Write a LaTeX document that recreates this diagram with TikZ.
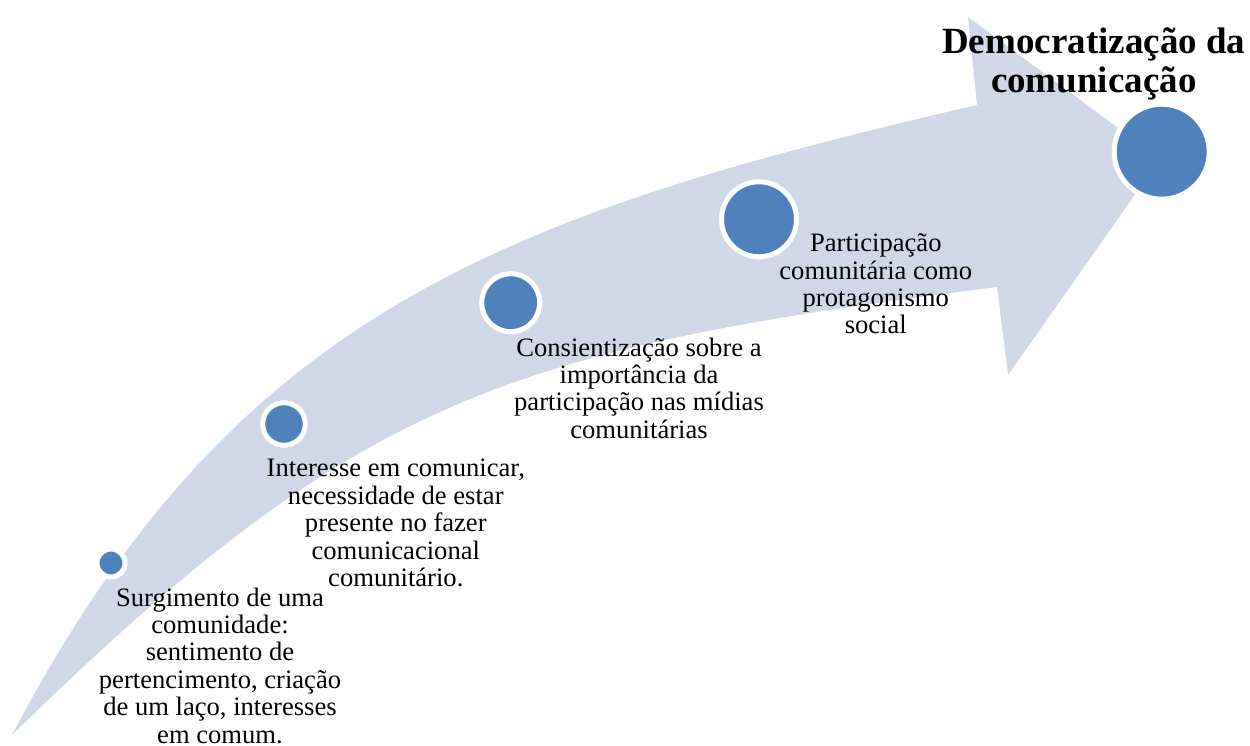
\documentclass[tikz,border=0pt]{standalone}
\usepackage{fontspec}
\setmainfont{Liberation Serif}
\definecolor{bandfill}{HTML}{D0D8E8}
\definecolor{dotblue}{HTML}{4F81BD}
\begin{document}
\begin{tikzpicture}[x=1pt,y=-1pt,
  dot/.style={circle, fill=dotblue, draw=white, line width=5pt, inner sep=0pt},
  steptext/.style={align=center, inner sep=0pt, font=\fontsize{26.6}{27.4}\selectfont},
  titletext/.style={align=center, inner sep=0pt, font=\fontsize{37}{39}\selectfont\bfseries}]
\useasboundingbox (0,0) rectangle (1250,746);

% curved arrow band
\fill[bandfill] (12,735) .. controls (232,316) and (497,216) .. (977,105)
  -- (968,17) -- (1160,159) -- (1008,375) -- (997,287)
  .. controls (504.5,349.5) and (357,397.5) .. (12,735) -- cycle;

% stage markers
\node[dot, minimum size=28pt]   (d1) at (111,563) {};
\node[dot, minimum size=42.6pt] (d2) at (284,424) {};
\node[dot, minimum size=58pt]   (d3) at (510.7,302.7) {};
\node[dot, minimum size=75pt]   (d4) at (759,219.3) {};
\node[dot, minimum size=95pt]   (d5) at (1161.7,151.7) {};

% stage labels
\node[steptext] (t1) at (220,665.5)
  {Surgimento de uma\\comunidade:\\sentimento de\\pertencimento, criação\\de um laço, interesses\\em comum.};
\node[steptext] (t2) at (395.8,523)
  {Interesse em comunicar,\\necessidade de estar\\presente no fazer\\comunicacional\\comunitário.};
\node[steptext] (t3) at (639,388)
  {Consientização sobre a\\importância da\\participação nas mídias\\comunitárias};
\node[steptext] (t4) at (875.8,284)
  {Participação\\comunitária como\\protagonismo\\social};
\node[titletext] (t5) at (1093.8,64)
  {Democratização da\\comunicação};
\end{tikzpicture}
\end{document}
